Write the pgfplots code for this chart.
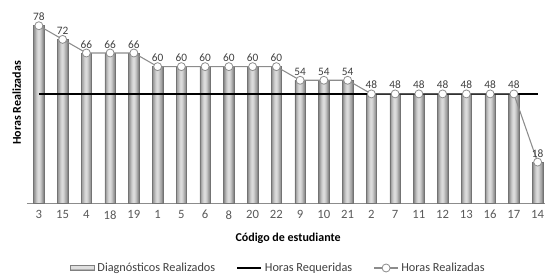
\documentclass[border=0pt]{standalone}
\usepackage{pgfplots}
\pgfplotsset{compat=1.18}
\usepackage{fontspec}
\setmainfont{Carlito}
\definecolor{txt}{HTML}{595959}
\definecolor{lbl}{HTML}{404040}
\definecolor{lin}{HTML}{8C8C8C}
\pgfplotstableread{
x y
0 78
1 72
2 66
3 66
4 66
5 60
6 60
7 60
8 60
9 60
10 60
11 54
12 54
13 54
14 48
15 48
16 48
17 48
18 48
19 48
20 48
21 18
}\data
\begin{document}
\begin{tikzpicture}
\path[use as bounding box] (-20.25pt,-56.25pt) rectangle (388.5pt,152.25pt);
\begin{axis}[
  at={(0,0)}, anchor=south west,
  scale only axis, width=388.5pt, height=150pt,
  xmin=-0.5, xmax=21.31, ymin=0, ymax=88,
  clip=false,
  axis x line*=bottom, axis y line*=left,
  x axis line style={draw=lin, line width=0.6pt},
  y axis line style={draw=none},
  xtick={0,...,21},
  xticklabels={3,15,4,18,19,1,5,6,8,20,22,9,10,21,2,7,11,12,13,16,17,14},
  major tick length=0pt,
  ytick=\empty,
  /pgf/number format/assume math mode=true,
  xticklabel style={font=\fontsize{9.5}{11}\selectfont, text=txt, yshift=-2pt},
  xlabel={\textbf{Código de estudiante}},
  xlabel style={font=\fontsize{9}{11}\selectfont, at={(axis description cs:0.504,0)}, anchor=center, yshift=-26.5pt},
  ylabel={\textbf{Horas Realizadas}},
  ylabel style={font=\fontsize{9}{11}\selectfont, at={(axis description cs:0,0.5)}, anchor=south, yshift=1pt},
  legend columns=3,
  legend style={draw=none, fill=none, at={(axis description cs:0.486,-0.325)}, anchor=center,
    font=\fontsize{9.2}{11}\selectfont, text=lbl,
    /tikz/every even column/.append style={column sep=14pt}},
  every axis plot/.append style={bar shift=0pt},
]
\addplot[ybar, bar width=7.8pt, draw=gray!110, line width=0.4pt, fill=gray!90,
  legend image code/.code={\draw[gray!100, fill=gray!60] (0pt,-2pt) rectangle (18pt,2pt);\fill[gray!25] (0.6pt,-0.4pt) rectangle (17.4pt,1.6pt);}]
 table[x=x,y=y] {\data};
\addlegendentry{Diagnósticos Realizados}
\addplot[ybar, bar width=6.2pt, draw=none, fill=gray!70, forget plot] table[x=x,y=y] {\data};
\addplot[ybar, bar width=4.6pt, draw=none, fill=gray!52, forget plot] table[x=x,y=y] {\data};
\addplot[ybar, bar width=3pt, draw=none, fill=gray!38, forget plot] table[x=x,y=y] {\data};
\addplot[ybar, bar width=1.5pt, draw=none, fill=gray!28, forget plot] table[x=x,y=y] {\data};
\addplot[black, line width=1.2pt, mark=none,
  legend image code/.code={\draw[black, line width=1.2pt] (0pt,0pt) -- (18pt,0pt);}]
 coordinates {(0,48)(21,48)};
\addlegendentry{Horas Requeridas}
\addplot[lin, line width=0.8pt, mark=*, mark size=3pt,
  mark options={fill=white, draw=gray!90, line width=0.6pt},
  nodes near coords, every node near coord/.append style={font=\fontsize{8.5}{10}\selectfont, text=lbl, yshift=0pt},
  legend image code/.code={\draw[lin, line width=0.8pt] (0pt,0pt) -- (18pt,0pt); \draw[gray!90, fill=white, line width=0.6pt] (9pt,0pt) circle (3pt);}]
 table[x=x,y=y] {\data};
\addlegendentry{Horas Realizadas}
\end{axis}
\end{tikzpicture}
\end{document}
